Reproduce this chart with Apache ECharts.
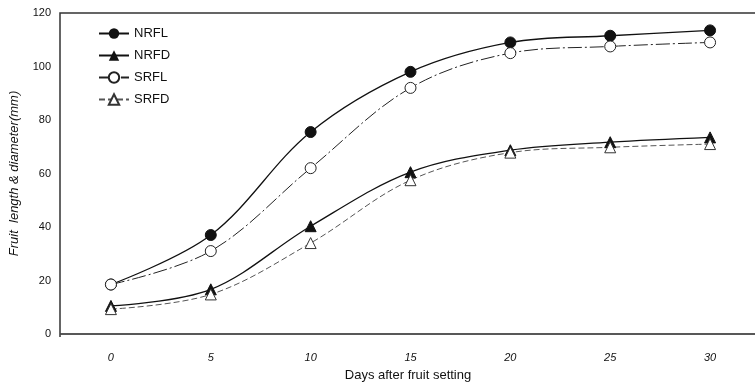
<!DOCTYPE html>
<html>
<head>
<meta charset="utf-8">
<script src="https://cdn.jsdelivr.net/npm/echarts@6/dist/echarts.min.js"></script>
<style>
  html, body { margin: 0; padding: 0; background: #fff; overflow: hidden; }
  #chart { width: 755px; height: 387px; }
</style>
</head>
<body>
<div id="chart"></div>
<script>
// days after fruit setting
const days = [0, 5, 10, 15, 20, 25, 30];
const xTicks = [0, 5, 10, 15, 20, 25, 30];

// fruit length & diameter (mm)
const nrfl = [18.5, 37, 75.5, 98, 109, 111.5, 113.5];
const nrfd = [10.5, 16.7, 40.3, 60.5, 68.7, 71.7, 73.5];
const srfl = [18.5, 31, 62, 92, 105, 107.5, 109];
const srfd = [9.3, 14.8, 34, 57.5, 67.8, 69.8, 71];

const pairs = arr => days.map((d, i) => [d, arr[i]]);

const chart = echarts.init(document.getElementById('chart'));

const fontFam = 'Arial, "Liberation Sans", sans-serif';

chart.setOption({
    animation: false,
    textStyle: { fontFamily: fontFam },
    grid: { left: 60, top: 13, width: 695, bottom: 50 },
    legend: {
        orient: 'vertical',
        left: 93,
        top: 22,
        itemWidth: 30,
        itemHeight: 13,
        itemGap: 9,
        textStyle: { fontSize: 13, color: '#111', fontFamily: fontFam },
        data: ['NRFL', 'NRFD', 'SRFL', 'SRFD']
    },
    xAxis: {
        type: 'value',
        position: 'bottom',
        min: -2.5,
        max: 32.25,
        interval: 5,
        name: 'Days after fruit setting',
        nameLocation: 'middle',
        nameGap: 35,
        nameTextStyle: { fontSize: 13, color: '#111' },
        axisLine: { onZero: false, lineStyle: { color: '#222', width: 1.5 } },
        axisTick: { show: false },
        splitLine: { show: false },
        axisLabel: {
            fontSize: 11,
            fontStyle: 'italic',
            color: '#111',
            margin: 18,
            customValues: xTicks
        }
    },
    yAxis: {
        type: 'value',
        position: 'left',
        min: 0,
        max: 120,
        interval: 20,
        name: 'Fruit  length & diameter(mm)',
        nameLocation: 'middle',
        nameGap: 40,
        nameTextStyle: { fontSize: 13, fontStyle: 'italic', color: '#111' },
        axisLine: { show: false },
        axisTick: { show: false },
        splitLine: { show: false },
        axisLabel: { fontSize: 11, color: '#111', margin: 10 }
    },
    graphic: [{
        type: 'polyline',
        shape: { points: [[60, 337], [60, 13], [755, 13]] },
        style: { stroke: '#333', lineWidth: 1.5, fill: null }
    }],
    series: [
        {
            name: 'NRFL', type: 'line', smooth: 0.35,
            data: pairs(nrfl),
            symbol: 'circle', symbolSize: 11,
            itemStyle: { color: '#111', borderColor: '#111' },
            lineStyle: { color: '#111', width: 1.3 }
        },
        {
            name: 'NRFD', type: 'line', smooth: 0.35,
            data: pairs(nrfd),
            symbol: 'triangle', symbolSize: 11,
            itemStyle: { color: '#111', borderColor: '#111' },
            lineStyle: { color: '#111', width: 1.3 }
        },
        {
            name: 'SRFL', type: 'line', smooth: 0.35,
            data: pairs(srfl),
            symbol: 'circle', symbolSize: 11,
            itemStyle: { color: '#fff', borderColor: '#222', borderWidth: 1 },
            lineStyle: { color: '#222', width: 1, type: [14, 3, 2, 3] }
        },
        {
            name: 'SRFD', type: 'line', smooth: 0.35,
            data: pairs(srfd),
            symbol: 'triangle', symbolSize: 11,
            itemStyle: { color: '#fff', borderColor: '#333', borderWidth: 1 },
            lineStyle: { color: '#555', width: 1, type: [6, 3] }
        }
    ]
});
</script>
</body>
</html>
